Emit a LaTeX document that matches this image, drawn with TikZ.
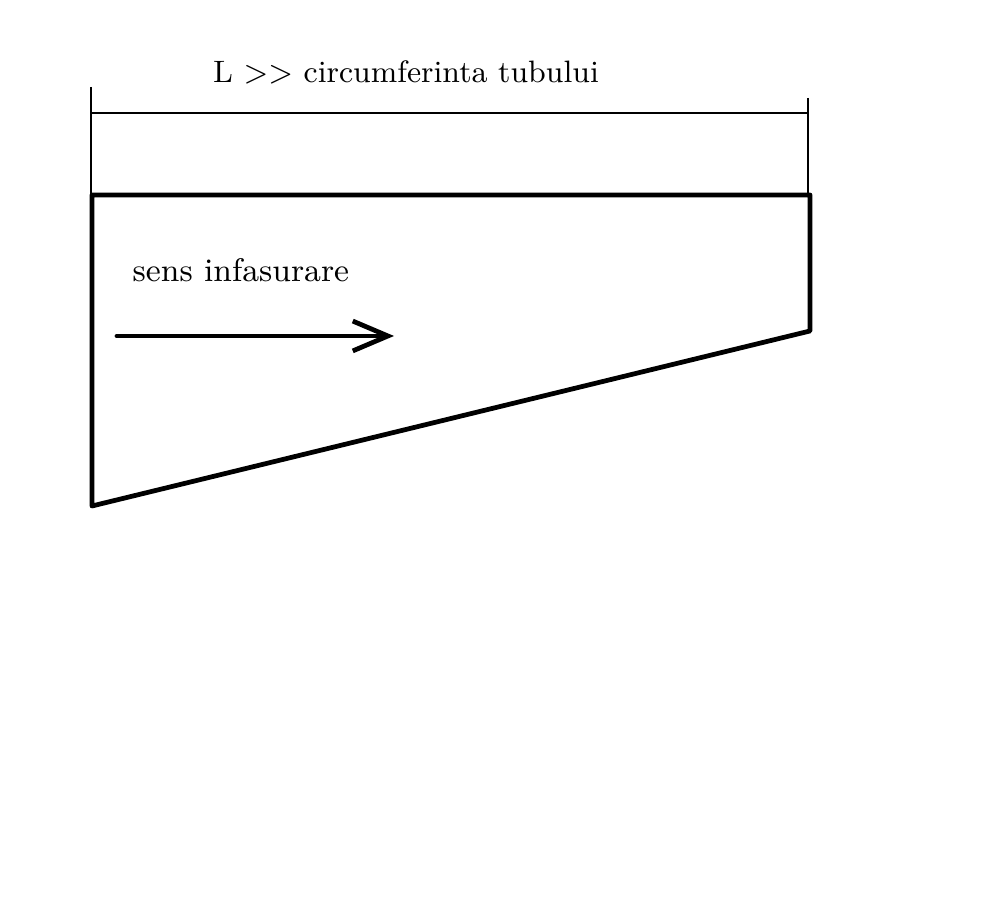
\documentclass[tikz,border=0pt]{standalone}
\usepackage{tikz}
\usetikzlibrary{arrows.meta}

\begin{document}
\begin{tikzpicture}[x=0.01cm,y=-0.01cm]
        \useasboundingbox (0,0) rectangle (996,898);
        % dimension line
        \draw[line width=0.35pt] (91,87) -- (91,195);
        \draw[line width=0.35pt] (808,98) -- (808,195);
        \draw[line width=0.35pt] (91,113) -- (808,113);
        \node[font = {\fontsize{8.8}{11}\selectfont}, black] (len) at (406,72) {L >{}> circumferinta tubului};

        % strip
        \draw[line width=1.35pt, line join=round] (92,195) -- (810,195) -- (810,331) -- (92,506) -- cycle;

        \node[font = {\fontsize{9.3}{11}\selectfont}, black, anchor=base west, inner sep=0pt] (sens) at (132,282) {sens infasurare};
        \draw[line width=1.35pt, line cap=round, -{Straight Barb[length=10pt,width=8.5pt]}] (117,336) -- (394,336);
    \end{tikzpicture}
\end{document}
